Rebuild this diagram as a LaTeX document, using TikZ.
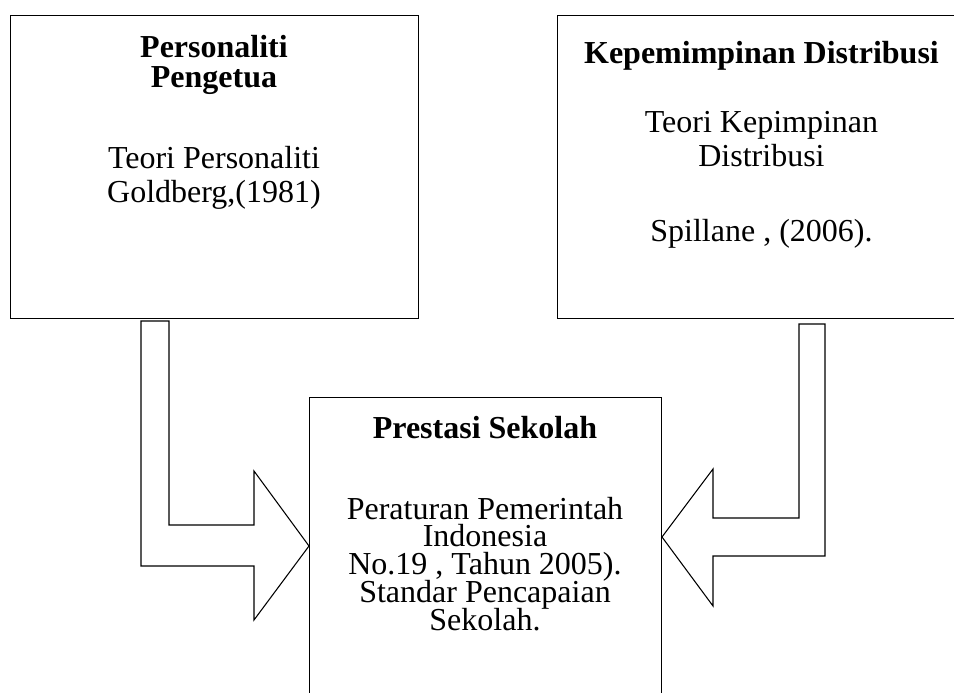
\documentclass[tikz,border=0pt]{standalone}
\usepackage{fontspec}
\setmainfont{Liberation Serif}
\usetikzlibrary{positioning}

\begin{document}
\begin{tikzpicture}[x=0.75pt,y=-0.75pt,
	kotak/.style={draw=black, line width=1.1pt, rectangle, inner sep=0pt, anchor=north west},
	% Judul tebal di atas kotak
	judul/.style={font={\bfseries\fontsize{24}{22.5}\selectfont\lineskiplimit=-20pt}, align=center, inner sep=0pt, anchor=base},
	isi/.style={font={\fontsize{24}{25.5}\selectfont\lineskiplimit=-20pt}, align=center, inner sep=0pt, anchor=base},
	% Panah blok
	panah/.style={draw=black, line width=0.8pt, line join=miter, fill=white}
	]
	\useasboundingbox (0,0) rectangle (954,693);
	\clip (0,0) rectangle (954,693);
	
	% Kotak
	\node[kotak, minimum width=306pt, minimum height=227.25pt] (pengetua) at (10,15) {};
	\node[kotak, minimum width=306.75pt, minimum height=227.25pt] (distribusi) at (557,15) {};
	\node[kotak, minimum width=264pt, minimum height=242pt] (prestasi) at (309,397) {};
	
	% Teks (anchor base = baris terakhir)
	\node[judul] (judul1) at (214,87) {Personaliti\\Pengetua};
	\node[isi] (isi1) at (214,202) {Teori Personaliti\\Goldberg,(1981)};
	
	\node[judul] (judul2) at (761.5,63) {Kepemimpinan Distribusi};
	\node[isi] (isi2) at (761.5,166) {Teori Kepimpinan\\Distribusi};
	\node[isi] (rujuk2) at (761.5,241) {Spillane , (2006).};
	
	\node[judul] (judul3) at (485,438) {Prestasi Sekolah};
	\node[isi, font={\fontsize{24}{20.8}\selectfont\lineskiplimit=-20pt}] (isi3) at (485,630)
	{Peraturan Pemerintah\\Indonesia\\No.19 , Tahun 2005).\\Standar Pencapaian\\Sekolah.};
	
	% Panah kiri dan kanan
	\coordinate (ujungkiri) at (309,546);
	\coordinate (ujungkanan) at (662,537);
	\draw[panah] (141,321) -- (141,566) -- (254,566) -- (254,620) -- (ujungkiri)
		-- (254,471) -- (254,525) -- (169,525) -- (169,321) -- cycle;
	\draw[panah] (825,324) -- (825,556) -- (713,556) -- (713,606) -- (ujungkanan)
		-- (713,469) -- (713,518) -- (799,518) -- (799,324) -- cycle;
	
\end{tikzpicture}
\end{document}
